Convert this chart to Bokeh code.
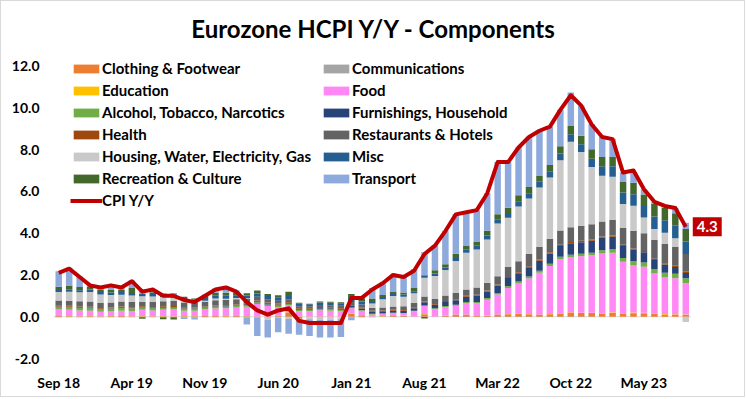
import numpy as np
from bokeh.plotting import figure
from bokeh.models import (Legend, LegendItem, FixedTicker, NumeralTickFormatter,
                          Label, Range1d, ColumnDataSource)
from bokeh.embed import file_html
from bokeh.resources import INLINE

title_text = "Eurozone HCPI Y/Y - Components"

months = ["Sep 18", "Oct 18", "Nov 18", "Dec 18",
          "Jan 19", "Feb 19", "Mar 19", "Apr 19", "May 19", "Jun 19", "Jul 19", "Aug 19", "Sep 19", "Oct 19", "Nov 19", "Dec 19",
          "Jan 20", "Feb 20", "Mar 20", "Apr 20", "May 20", "Jun 20", "Jul 20", "Aug 20", "Sep 20", "Oct 20", "Nov 20", "Dec 20",
          "Jan 21", "Feb 21", "Mar 21", "Apr 21", "May 21", "Jun 21", "Jul 21", "Aug 21", "Sep 21", "Oct 21", "Nov 21", "Dec 21",
          "Jan 22", "Feb 22", "Mar 22", "Apr 22", "May 22", "Jun 22", "Jul 22", "Aug 22", "Sep 22", "Oct 22", "Nov 22", "Dec 22",
          "Jan 23", "Feb 23", "Mar 23", "Apr 23", "May 23", "Jun 23", "Jul 23", "Aug 23", "Sep 23"]

tick_labels = ["Sep 18", "Apr 19", "Nov 19", "Jun 20", "Jan 21", "Aug 21", "Mar 22", "Oct 22", "May 23"]
y_ticks = [-2, 0, 2, 4, 6, 8, 10, 12]

cpi = [2.1, 2.3, 1.9, 1.5, 1.4, 1.5, 1.4, 1.7, 1.2, 1.3, 1.0, 1.0, 0.8, 0.7, 1.0, 1.3, 1.4, 1.2, 0.7, 0.3,
       0.1, 0.3, 0.4, -0.2, -0.3, -0.3, -0.3, -0.3, 0.9, 0.9, 1.3, 1.6, 2.0, 1.9, 2.2, 3.0, 3.4, 4.1, 4.9, 5.0,
       5.1, 5.9, 7.4, 7.4, 8.1, 8.6, 8.9, 9.1, 9.9, 10.6, 10.1, 9.2, 8.6, 8.5, 6.9, 7.0, 6.1, 5.5, 5.3, 5.2, 4.3]

clothing = [0.03, 0.02, 0.01, 0.02, 0.01, 0.02, 0.03, 0.01, 0.02, 0.01, 0.02, 0.01, 0.02, 0.02, 0.03, 0.03, 0.02, 0.03,
            0.02, 0.00, -0.03, 0.06, 0.20, -0.10, 0.00, -0.03, -0.02, 0.00,
            0.15, 0.07, 0.00, 0.02, 0.03, 0.04, 0.00, 0.12, 0.00, 0.06, 0.10, 0.10,
            0.03, 0.05, 0.10, 0.12, 0.13, 0.12, 0.10, 0.12, 0.15, 0.20, 0.18, 0.18,
            0.15, 0.18, 0.15, 0.17, 0.16, 0.14, 0.10, 0.10, 0.08]
communications = [-0.03, -0.03, -0.02, -0.02, -0.03, -0.03, -0.03, -0.03, -0.02, -0.02, -0.02, -0.03, -0.03, -0.03, -0.02, -0.02, -0.02, -0.02,
                  -0.02, -0.02, -0.02, -0.01, -0.01, -0.01, -0.02, -0.02, -0.02, -0.02,
                  -0.02, -0.02, -0.02, -0.01, -0.01, -0.01, -0.01, -0.01, -0.01, -0.01, -0.01, -0.01,
                  0.00, -0.01, -0.01, -0.01, -0.01, -0.01, -0.01, -0.01, -0.01, -0.01, -0.01, -0.01,
                  0.01, 0.01, 0.01, 0.01, 0.01, 0.01, 0.01, 0.00, 0.00]
education = [0.01, 0.01, 0.01, 0.01, 0.01, 0.01, 0.01, 0.01, 0.01, 0.01, 0.01, 0.01, 0.01, 0.01, 0.01, 0.01, 0.01, 0.01,
             0.01, 0.01, 0.01, 0.01, 0.01, 0.01, 0.01, 0.01, 0.01, 0.01,
             0.01, 0.01, 0.01, 0.01, 0.01, 0.01, 0.01, 0.01, 0.01, 0.01, 0.01, 0.01,
             0.01, 0.01, 0.01, 0.01, 0.01, 0.01, 0.01, 0.01, 0.01, 0.01, 0.01, 0.01,
             0.02, 0.02, 0.02, 0.02, 0.02, 0.02, 0.02, 0.02, 0.02]
food = [0.30, 0.30, 0.28, 0.25, 0.22, 0.22, 0.25, 0.25, 0.30, 0.28, 0.30, 0.32, 0.25, 0.25, 0.30, 0.35, 0.38, 0.40,
        0.45, 0.60, 0.50, 0.40, 0.35, 0.25, 0.25, 0.30, 0.28, 0.25,
        0.25, 0.20, 0.10, 0.10, 0.12, 0.10, 0.25, 0.38, 0.35, 0.40, 0.42, 0.55,
        0.60, 0.75, 0.95, 1.25, 1.45, 1.70, 2.00, 2.30, 2.60, 2.65, 2.70, 2.75,
        2.85, 2.85, 2.45, 2.25, 2.20, 1.90, 1.75, 1.72, 1.50]
alcohol = [0.12, 0.12, 0.12, 0.13, 0.12, 0.13, 0.13, 0.12, 0.11, 0.10, 0.10, 0.10, 0.10, 0.10, 0.09, 0.09, 0.08, 0.08,
           0.08, 0.08, 0.08, 0.07, 0.06, 0.06, 0.06, 0.07, 0.07, 0.07,
           0.03, 0.03, 0.03, 0.03, 0.03, 0.03, 0.03, 0.03, 0.04, 0.04, 0.04, 0.05,
           0.06, 0.08, 0.08, 0.09, 0.09, 0.09, 0.09, 0.10, 0.11, 0.11, 0.12, 0.12,
           0.15, 0.17, 0.18, 0.20, 0.20, 0.20, 0.22, 0.22, 0.24]
furnishings = [0.03, 0.03, 0.03, 0.03, 0.02, 0.02, 0.03, 0.02, 0.02, 0.03, 0.03, 0.03, 0.03, 0.02, 0.02, 0.02, 0.03, 0.03,
               0.04, 0.05, 0.05, 0.05, 0.05, 0.04, 0.04, 0.04, 0.05, 0.05,
               0.08, 0.08, 0.10, 0.10, 0.10, 0.10, 0.12, 0.15, 0.17, 0.20, 0.22, 0.25,
               0.30, 0.32, 0.35, 0.38, 0.40, 0.45, 0.48, 0.50, 0.52, 0.55, 0.56, 0.58,
               0.60, 0.60, 0.58, 0.55, 0.50, 0.45, 0.40, 0.32, 0.25]
health = [0.04, 0.04, 0.04, 0.04, 0.04, 0.04, 0.04, 0.04, 0.04, 0.04, 0.04, 0.04, 0.04, 0.04, 0.04, 0.04, 0.04, 0.04,
          0.04, 0.04, 0.04, 0.04, 0.04, 0.04, 0.04, 0.04, 0.04, 0.04,
          0.04, 0.04, 0.04, 0.04, 0.04, 0.04, 0.04, 0.04, 0.04, 0.04, 0.04, 0.04,
          0.05, 0.05, 0.05, 0.05, 0.05, 0.05, 0.05, 0.05, 0.06, 0.06, 0.06, 0.06,
          0.06, 0.06, 0.06, 0.06, 0.06, 0.06, 0.06, 0.06, 0.06]
restaurants = [0.25, 0.25, 0.25, 0.25, 0.24, 0.24, 0.24, 0.26, 0.22, 0.24, 0.24, 0.24, 0.23, 0.23, 0.23, 0.25, 0.25, 0.25,
               0.22, 0.18, 0.16, 0.14, 0.12, 0.10, 0.10, 0.10, 0.10, 0.10,
               0.15, 0.15, 0.15, 0.14, 0.16, 0.18, 0.22, 0.24, 0.24, 0.26, 0.30, 0.30,
               0.35, 0.36, 0.40, 0.48, 0.52, 0.58, 0.62, 0.65, 0.68, 0.70, 0.72, 0.72,
               0.72, 0.75, 0.80, 0.85, 0.85, 0.90, 0.92, 0.90, 0.85]
housing = [0.40, 0.42, 0.43, 0.45, 0.40, 0.36, 0.32, 0.30, 0.26, 0.26, 0.20, 0.16, 0.10, 0.03, 0.05, 0.08, 0.05, 0.05,
           0.02, 0.00, -0.10, -0.05, -0.10, 0.00, -0.10, -0.10, -0.10, -0.10,
           0.00, 0.00, 0.20, 0.40, 0.50, 0.46, 0.45, 0.90, 1.10, 1.23, 1.54, 1.76,
           1.82, 2.07, 2.52, 2.36, 2.63, 2.66, 2.83, 2.93, 3.36, 4.10, 3.53, 2.74,
           2.19, 2.06, 1.15, 1.20, 0.75, 0.52, 0.54, 0.41, -0.25]
misc = [0.10, 0.10, 0.10, 0.12, 0.12, 0.12, 0.13, 0.12, 0.12, 0.12, 0.12, 0.12, 0.12, 0.12, 0.13, 0.13, 0.14, 0.14,
        0.14, 0.15, 0.15, 0.16, 0.16, 0.12, 0.10, 0.12, 0.12, 0.12,
        0.18, 0.15, 0.12, 0.10, 0.10, 0.10, 0.10, 0.12, 0.12, 0.12, 0.14, 0.15,
        0.18, 0.20, 0.20, 0.22, 0.25, 0.25, 0.28, 0.30, 0.32, 0.35, 0.38, 0.40,
        0.45, 0.50, 0.55, 0.55, 0.55, 0.60, 0.60, 0.60, 0.60]
recreation = [0.15, 0.20, 0.15, 0.12, 0.10, 0.12, 0.10, 0.25, -0.08, 0.08, -0.10, -0.10, 0.05, 0.05, 0.10, 0.15, 0.15, 0.12,
              0.10, 0.15, 0.10, 0.10, 0.20, 0.05, 0.02, 0.05, 0.05, 0.05,
              0.20, 0.15, 0.12, 0.10, 0.12, 0.10, 0.15, -0.08, 0.15, 0.15, 0.20, 0.20,
              0.20, 0.22, 0.25, 0.25, 0.28, 0.30, 0.30, 0.30, 0.35, 0.40, 0.40, 0.45,
              0.45, 0.45, 0.50, 0.55, 0.55, 0.60, 0.60, 0.60, 0.60]
transport = [0.75, 0.85, 0.50, 0.10, 0.15, 0.25, 0.15, 0.35, 0.20, 0.15, 0.06, 0.10, -0.08, -0.10, 0.05, 0.20, 0.30, 0.10,
             -0.35, -0.90, -0.85, -0.68, -0.70, -0.75, -0.80, -0.85, -0.85, -0.85,
             -0.15, 0.05, 0.50, 0.60, 0.80, 0.75, 0.90, 1.10, 1.20, 1.60, 1.90, 1.60,
             1.50, 1.80, 2.50, 2.20, 2.30, 2.40, 2.15, 1.85, 1.75, 1.60, 1.45, 1.20,
             0.95, 0.85, 0.45, 0.50, 0.25, 0.10, 0.08, 0.25, 0.30]

series_names = ["Clothing & Footwear", "Communications", "Education", "Food",
                "Alcohol, Tobacco, Narcotics", "Furnishings, Household", "Health",
                "Restaurants & Hotels", "Housing, Water, Electricity, Gas", "Misc",
                "Recreation & Culture", "Transport"]
series_values = [clothing, communications, education, food, alcohol, furnishings, health,
                 restaurants, housing, misc, recreation, transport]
series_colors = ["#ED7D31", "#A5A5A5", "#FFC000", "#FF88F4", "#70AD47", "#264478", "#9E480E",
                 "#636363", "#C9C9C9", "#255E91", "#43682B", "#8EA9DB"]
cpi_color = "#C00000"

FONT = "Lato"
n = len(months)

p = figure(width=745, height=397, output_backend="svg", toolbar_location=None,
           x_range=Range1d(-0.5, 65.62), y_range=Range1d(-2, 15.087),
           min_border_left=52, min_border_right=2, min_border_top=0, min_border_bottom=40)
p.title = None
p.styles = {"border": "1px solid #D9D9D9"}
p.outline_line_color = None
p.xgrid.visible = False
p.ygrid.visible = False
p.background_fill_color = "white"
p.border_fill_color = "white"

# chart title (placed in screen units inside the plotting area)
title = Label(x=320.5, y=330, x_units="screen", y_units="screen", text=title_text,
              text_align="center", text_baseline="alphabetic",
              text_font=FONT, text_font_style="bold", text_font_size="24px", text_color="black")
p.add_layout(title)

x = np.arange(n)

# faint zero (category) axis line across the bar area
p.segment(x0=[x[0] - 0.5], x1=[x[-1] + 0.5], y0=[0], y1=[0], line_color="#D9D9D9", line_width=1)

pos_base = np.zeros(n)
neg_base = np.zeros(n)
items = []
for name, vals, color in zip(series_names, series_values, series_colors):
    v = np.array(vals, dtype=float)
    pos = np.clip(v, 0, None)
    neg = np.clip(v, None, 0)
    bottom = np.where(v >= 0, pos_base, neg_base + neg)
    top = np.where(v >= 0, pos_base + pos, neg_base)
    pos_base = pos_base + pos
    neg_base = neg_base + neg
    src = ColumnDataSource(dict(x=x, top=top, bottom=bottom))
    r = p.vbar(x="x", top="top", bottom="bottom", width=0.62, source=src,
               fill_color=color, line_color=None)
    items.append(LegendItem(label=name, renderers=[r]))

line_src = ColumnDataSource(dict(x=x, y=cpi))
lr = p.line(x="x", y="y", source=line_src, line_color=cpi_color, line_width=4, line_join="round")
items.append(LegendItem(label="CPI Y/Y", renderers=[lr]))

legend = Legend(items=items, orientation="horizontal", ncols=2, location=(17, 148),
                padding=0, margin=0, spacing=2, label_standoff=0, label_width=216,
                glyph_width=32, glyph_height=11, label_height=20,
                label_text_font=FONT, label_text_font_style="bold", label_text_font_size="15px",
                label_text_color="black", background_fill_alpha=0, border_line_color=None)
p.add_layout(legend, "center")

last_label = Label(x=x[-1], y=cpi[-1], text=f"{cpi[-1]:.1f}", x_offset=7,
                   text_baseline="middle", text_align="left",
                   text_font=FONT, text_font_style="bold", text_font_size="15px", text_color="white",
                   background_fill_color=cpi_color, padding=4)
p.add_layout(last_label)

p.yaxis.ticker = FixedTicker(ticks=y_ticks)
p.yaxis.formatter = NumeralTickFormatter(format="0.0")
p.yaxis.axis_line_color = None
p.yaxis.major_tick_line_color = None
p.yaxis.minor_tick_line_color = None
p.yaxis.major_tick_out = 0
p.yaxis.major_tick_in = 0
p.yaxis.minor_tick_out = 0
p.yaxis.major_label_standoff = 14
p.yaxis.major_label_text_font = FONT
p.yaxis.major_label_text_font_style = "bold"
p.yaxis.major_label_text_font_size = "14px"
p.yaxis.major_label_text_color = "black"

tick_pos = [months.index(t) for t in tick_labels]
p.xaxis.ticker = FixedTicker(ticks=tick_pos)
p.xaxis.major_label_overrides = {pos: lab for pos, lab in zip(tick_pos, tick_labels)}
p.xaxis.axis_line_color = None
p.xaxis.major_tick_line_color = None
p.xaxis.minor_tick_line_color = None
p.xaxis.major_tick_out = 0
p.xaxis.major_tick_in = 0
p.xaxis.minor_tick_out = 0
p.xaxis.major_label_standoff = 15
p.xaxis.major_label_text_font = FONT
p.xaxis.major_label_text_font_style = "bold"
p.xaxis.major_label_text_font_size = "14px"
p.xaxis.major_label_text_color = "black"

open("out.html", "w").write(file_html(p, INLINE))
